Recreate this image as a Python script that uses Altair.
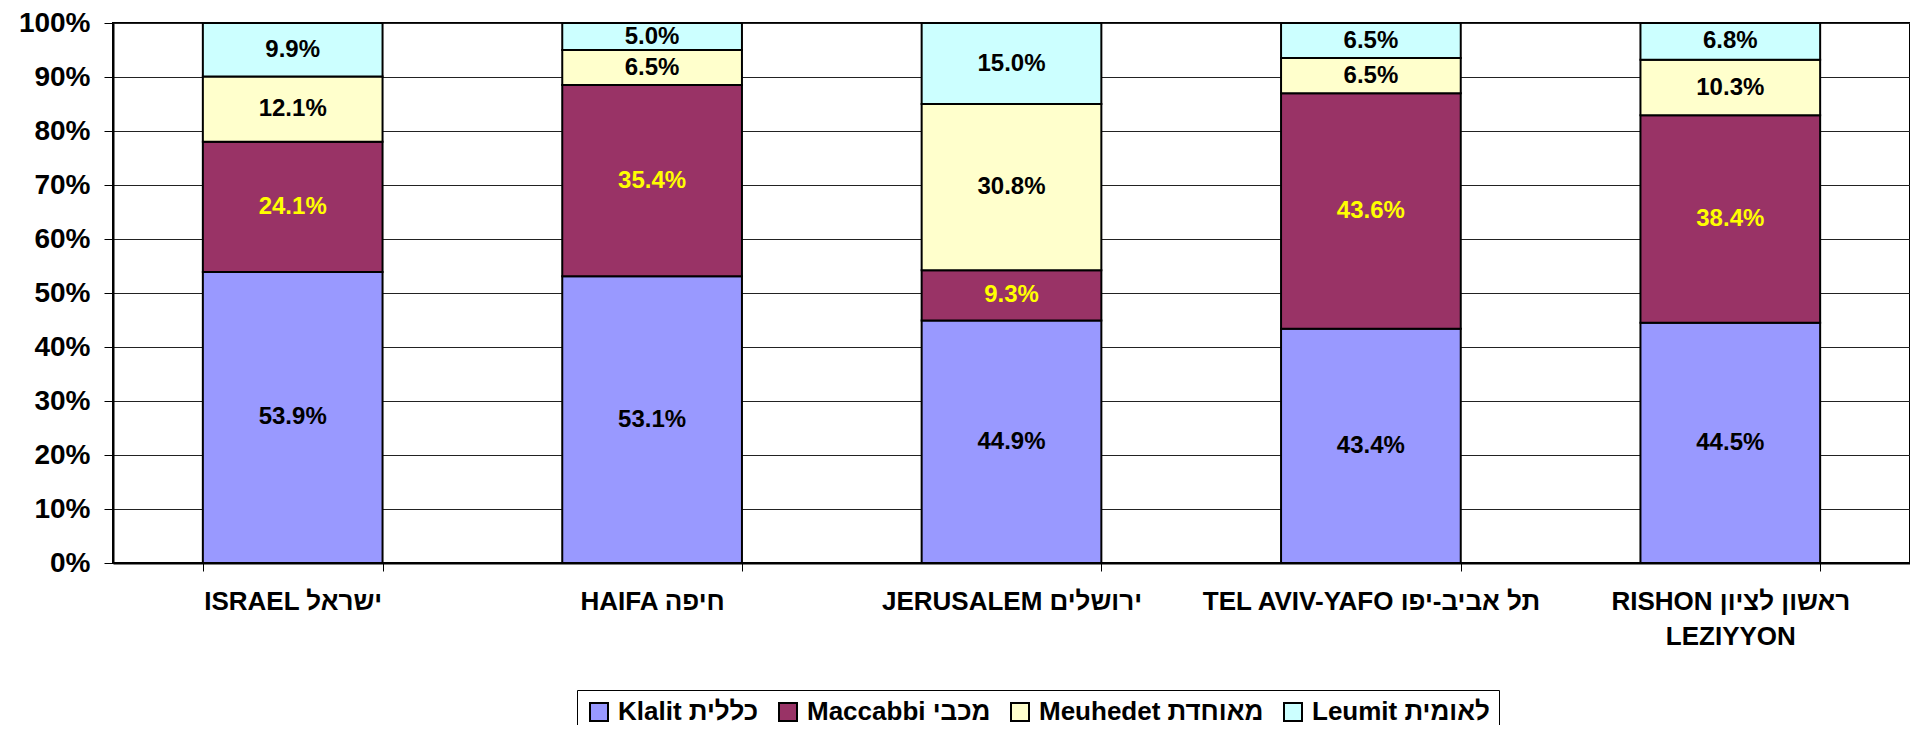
import altair as alt
import pandas as pd

# ---- data ----
cities = [
    "ISRAEL ישראל",
    "HAIFA חיפה",
    "JERUSALEM ירושלים",
    "TEL AVIV-YAFO תל אביב-יפו",
    "RISHON ראשון לציון|LEZIYYON",
]
funds = ["Klalit כללית", "Maccabbi מכבי", "Meuhedet מאוחדת", "Leumit לאומית"]
klalit = [53.9, 53.1, 44.9, 43.4, 44.5]
maccabbi = [24.1, 35.4, 9.3, 43.6, 38.4]
meuhedet = [12.1, 6.5, 30.8, 6.5, 10.3]
leumit = [9.9, 5.0, 15.0, 6.5, 6.8]
fund_colors = ["#9999FF", "#993366", "#FFFFCC", "#CCFFFF"]
label_colors = ["#000000", "#FFFF00", "#000000", "#000000"]
y_ticks = [0, 0.1, 0.2, 0.3, 0.4, 0.5, 0.6, 0.7, 0.8, 0.9, 1.0]

series = [klalit, maccabbi, meuhedet, leumit]
rows = []
for fi, (fund, vals) in enumerate(zip(funds, series)):
    for city, v in zip(cities, vals):
        rows.append({"city": city, "fund": fund, "value": v / 100.0,
                     "order": fi, "tcolor": label_colors[fi]})
df = pd.DataFrame(rows)

FONT = "Liberation Sans"

x_enc = alt.X(
    "city:N",
    sort=cities,
    scale=alt.Scale(paddingInner=0.5, paddingOuter=0.25),
    axis=alt.Axis(
        title=None, labelAngle=0, labelFont=FONT, labelFontSize=26,
        labelFontWeight="bold", labelColor="#000000", labelLimit=500,
        labelExpr="split(datum.label, '|')", labelLineHeight=35,
        tickBand="extent", tickSize=8, tickColor="#000000", tickWidth=1,
        domainColor="#000000", domainWidth=2, labelPadding=17, grid=False,
    ),
)
y_scale = alt.Scale(domain=[0, 1], nice=False)

bars = alt.Chart(df).mark_bar(stroke="#000000", strokeWidth=2).encode(
    x=x_enc,
    y=alt.Y(
        "value:Q", stack="zero", scale=y_scale,
        axis=alt.Axis(
            title=None, format=".0%", values=y_ticks, labelFont=FONT,
            labelFontSize=28, labelFontWeight="bold", labelColor="#000000",
            tickSize=9, tickColor="#000000", labelPadding=14,
            domainColor="#000000", domainWidth=2, grid=True,
            gridColor="#222222", gridWidth=1,
        ),
    ),
    color=alt.Color(
        "fund:N", sort=funds,
        scale=alt.Scale(domain=funds, range=fund_colors),
        legend=alt.Legend(
            title=None, orient="none", legendX=464, legendY=667,
            direction="horizontal", symbolType="square", symbolSize=324,
            symbolStrokeColor="#000000", symbolStrokeWidth=2,
            labelFont=FONT, labelFontSize=26, labelFontWeight="bold",
            labelColor="#000000", labelOffset=6, columnPadding=16,
            strokeColor="#000000", fillColor="#FFFFFF", padding=9,
            labelLimit=400,
        ),
    ),
    order=alt.Order("order:Q", sort="ascending"),
)

labels = alt.Chart(df).transform_stack(
    stack="value", groupby=["city"], as_=["y0", "y1"],
    sort=[alt.SortField("order", order="ascending")],
).transform_calculate(
    mid="(datum.y0 + datum.y1) / 2"
).mark_text(font=FONT, fontSize=24, fontWeight="bold").encode(
    x=alt.X("city:N", sort=cities),
    y=alt.Y("mid:Q", scale=y_scale, title=None),
    text=alt.Text("value:Q", format=".1%"),
    color=alt.Color("tcolor:N", scale=None),
)

chart = alt.layer(bars, labels).properties(
    width=1797, height=540,
    autosize=alt.AutoSizeParams(type="none"),
    padding={"left": 105, "top": 15, "right": 0, "bottom": 162},
    background="#FFFFFF",
).configure_view(stroke="#000000", strokeWidth=2)

chart.save("out.html", embed_options={"renderer": "svg", "actions": False})
